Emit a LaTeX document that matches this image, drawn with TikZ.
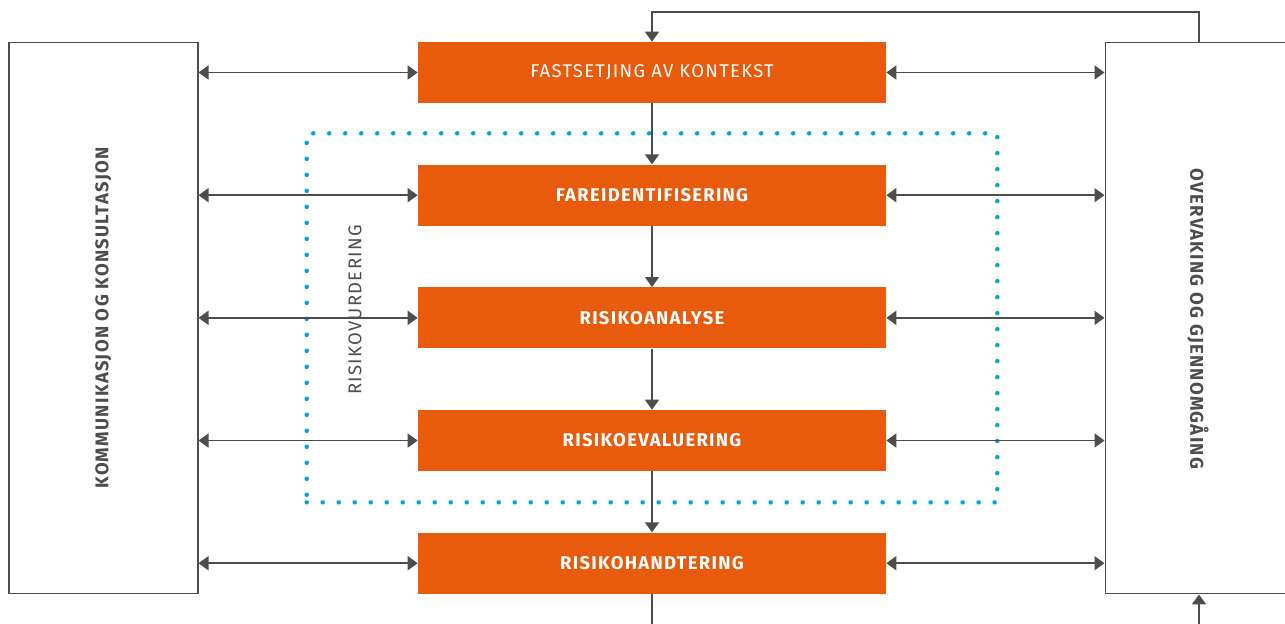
\documentclass[tikz,border=0pt]{standalone}
\usepackage{fontspec}
\setmainfont{Fira Sans}[LetterSpace=7]
\usetikzlibrary{arrows.meta, positioning, fit}
\definecolor{riskorange}{HTML}{E95B0C}
\definecolor{linegray}{HTML}{4D4D4D}
\definecolor{dotblue}{HTML}{0FA0E2}
\tikzset{
    stepbox/.style={rectangle, fill=riskorange, text=white, minimum width=9.36cm, minimum height=1.22cm, font=\bfseries\fontsize{10.5}{12}\selectfont},
    sidebox/.style={rectangle, draw=linegray, line width=0.6pt, minimum height=11.04cm},
    sidelabel/.style={text=linegray, font=\bfseries\fontsize{10.5}{12}\selectfont},
    dotframe/.style={draw=dotblue, line width=2.6pt, line cap=round, dash pattern=on 0pt off 0.32cm, inner xsep=2.22cm, inner ysep=0.62cm},
    biarrow/.style={draw=linegray, line width=0.9pt, {Triangle[length=0.2cm, width=0.28cm]}-{Triangle[length=0.2cm, width=0.28cm]}},
    arrow/.style={draw=linegray, line width=0.9pt, -{Triangle[length=0.2cm, width=0.28cm]}},
    line/.style={draw=linegray, line width=0.9pt}
}
\begin{document}
\begin{tikzpicture}[x=0.02cm, y=-0.02cm, node distance=1.22cm]
    \useasboundingbox (0,0) rectangle (1285,623);
    % process steps
    \node[stepbox, font=\fontsize{10.5}{12}\selectfont] (kontekst) at (652,72.5) {FASTSETJING AV KONTEKST};
    \node[stepbox, below=of kontekst] (fare) {FAREIDENTIFISERING};
    \node[stepbox, below=of fare] (analyse) {RISIKOANALYSE};
    \node[stepbox, below=of analyse] (evaluering) {RISIKOEVALUERING};
    \node[stepbox, below=of evaluering] (handtering) {RISIKOHANDTERING};
    % side columns
    \node[sidebox, minimum width=3.78cm] (komm) at (103.5,318) {};
    \node[sidelabel, rotate=90] (kommlabel) at (komm.center) {KOMMUNIKASJON OG KONSULTASJON};
    \node[sidebox, minimum width=3.7cm] (overv) at (1197.5,318) {};
    \node[sidelabel, rotate=-90] (overvlabel) at (1198,319) {OVERVAKING OG GJENNOMGÅING};
    % risk assessment frame
    \node[dotframe, fit=(fare)(evaluering)] (vurdering) {};
    \node[sidelabel, font=\fontsize{10.5}{12}\selectfont, rotate=90] (vurderinglabel) at (355,310) {RISIKOVURDERING};
    % main flow
    \draw[arrow] (kontekst) -- (fare);
    \draw[arrow] (fare) -- (analyse);
    \draw[arrow] (analyse) -- (evaluering);
    \draw[arrow] (evaluering) -- (handtering);
    % communication links
    \draw[biarrow] (komm.east |- kontekst) -- (kontekst.west);
    \draw[biarrow] (komm.east |- fare) -- (fare.west);
    \draw[biarrow] (komm.east |- analyse) -- (analyse.west);
    \draw[biarrow] (komm.east |- evaluering) -- (evaluering.west);
    \draw[biarrow] (komm.east |- handtering) -- (handtering.west);
    % monitoring links
    \draw[biarrow] (kontekst.east) -- (overv.west |- kontekst);
    \draw[biarrow] (fare.east) -- (overv.west |- fare);
    \draw[biarrow] (analyse.east) -- (overv.west |- analyse);
    \draw[biarrow] (evaluering.east) -- (overv.west |- evaluering);
    \draw[biarrow] (handtering.east) -- (overv.west |- handtering);
    % feedback loop
    \coordinate (looptop) at (1199,12);
    \coordinate (loopbottom) at (1199,640);
    \draw[arrow] (overv.north -| looptop) -- (looptop) -| (kontekst.north);
    \draw[line] (handtering.south) -- (handtering.south |- loopbottom);
    \draw[arrow] (loopbottom) -- (overv.south -| loopbottom);
\end{tikzpicture}
\end{document}
